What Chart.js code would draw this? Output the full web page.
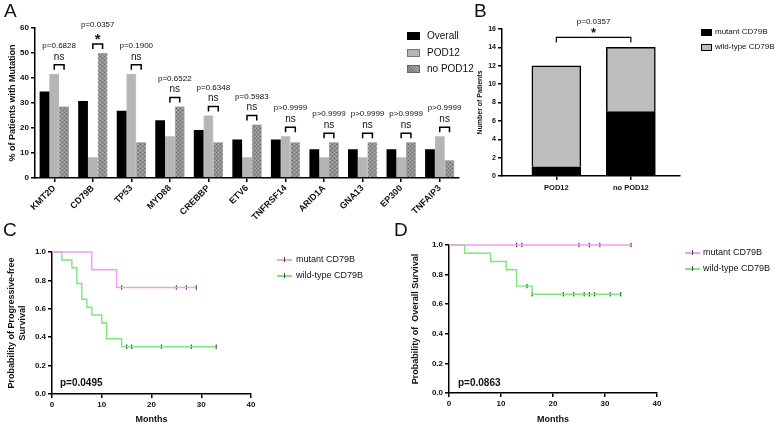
<!DOCTYPE html>
<html>
<head>
<meta charset="utf-8">
<script src="https://cdn.jsdelivr.net/npm/chart.js@4.4.1/dist/chart.umd.min.js"></script>
<style>
  body { margin: 0; background: #fff; }
  #wrap { position: relative; width: 779px; height: 426px; overflow: hidden; background: #fff;
          font-family: "Liberation Sans", Arial, sans-serif; color: #111; }
  canvas { position: absolute; }
  .panel { position: absolute; font-size: 19px; line-height: 1; color: #111; }
  .txt { position: absolute; white-space: nowrap; line-height: 1; }
  .sw { position: absolute; box-sizing: border-box; }
</style>
</head>
<body>
<div id="wrap">
  <canvas id="cA" width="470" height="228" style="left:0;top:0"></canvas>
  <canvas id="cB" width="309" height="200" style="left:470px;top:0"></canvas>
  <canvas id="cC" width="390" height="211" style="left:0;top:215px"></canvas>
  <canvas id="cD" width="389" height="211" style="left:390px;top:215px"></canvas>

  <div class="panel" style="left:4px;top:1px">A</div>
  <div class="panel" style="left:474px;top:1px">B</div>
  <div class="panel" style="left:3px;top:220px">C</div>
  <div class="panel" style="left:394px;top:220px">D</div>

  <!-- legende A -->
  <div class="sw" style="left:407px;top:32px;width:13px;height:8px;background:#000"></div>
  <div class="txt" style="left:427px;top:31px;font-size:10px">Overall</div>
  <div class="sw" style="left:407px;top:49px;width:13px;height:8px;background:#b5b5b5;border:1px solid #777"></div>
  <div class="txt" style="left:427px;top:48px;font-size:10px">POD12</div>
  <div class="sw" style="left:407px;top:65px;width:13px;height:8px;background:repeating-linear-gradient(45deg,#7a7a7a 0 1px,#a5a5a5 1px 2px);border:1px solid #666"></div>
  <div class="txt" style="left:427px;top:64px;font-size:10px">no POD12</div>

  <!-- legende B -->
  <div class="sw" style="left:701px;top:29px;width:11px;height:7px;background:#000"></div>
  <div class="txt" style="left:715px;top:28px;font-size:8px">mutant CD79B</div>
  <div class="sw" style="left:701px;top:44px;width:11px;height:7px;background:#bdbdbd;border:1px solid #000"></div>
  <div class="txt" style="left:715px;top:43px;font-size:8px">wild-type CD79B</div>

  <!-- legende C -->
  <div class="sw" style="left:277px;top:259px;width:15px;height:1.5px;background:#f29cf2"></div>
  <div class="sw" style="left:284px;top:257px;width:1px;height:5px;background:#444"></div>
  <div class="txt" style="left:296px;top:255px;font-size:9px">mutant CD79B</div>
  <div class="sw" style="left:277px;top:275px;width:15px;height:1.5px;background:#7ae87a"></div>
  <div class="sw" style="left:284px;top:273px;width:1px;height:5px;background:#444"></div>
  <div class="txt" style="left:296px;top:271px;font-size:9px">wild-type CD79B</div>
  <div class="txt" style="left:60px;top:378px;font-size:10px;font-weight:bold">p=0.0495</div>

  <!-- legende D -->
  <div class="sw" style="left:685px;top:252px;width:15px;height:1.5px;background:#f29cf2"></div>
  <div class="sw" style="left:692px;top:250px;width:1px;height:5px;background:#444"></div>
  <div class="txt" style="left:703px;top:248px;font-size:9px">mutant CD79B</div>
  <div class="sw" style="left:685px;top:268px;width:15px;height:1.5px;background:#7ae87a"></div>
  <div class="sw" style="left:692px;top:266px;width:1px;height:5px;background:#444"></div>
  <div class="txt" style="left:703px;top:264px;font-size:9px">wild-type CD79B</div>
  <div class="txt" style="left:458px;top:378px;font-size:10px;font-weight:bold">p=0.0863</div>
</div>

<script>
// ---- datos panel A (% de pacientes con mutacion)
const genes = ['KMT2D','CD79B','TP53','MYD88','CREBBP','ETV6','TNFRSF14','ARID1A','GNA13','EP300','TNFAIP3'];
const overall = [34.6, 30.8, 26.9, 23.1, 19.2, 15.4, 15.4, 11.5, 11.5, 11.5, 11.5];
const pod12   = [41.7, 8.3, 41.7, 16.7, 25.0, 8.3, 16.7, 8.3, 8.3, 8.3, 16.7];
const noPod12 = [28.6, 50.0, 14.3, 28.6, 14.3, 21.4, 14.3, 14.3, 14.3, 14.3, 7.1];
const pValores = ['p=0.6828','p=0.0357','p=0.1900','p=0.6522','p=0.6348','p=0.5983','p>0.9999','p>0.9999','p>0.9999','p>0.9999','p>0.9999'];
const signif  = ['ns','*','ns','ns','ns','ns','ns','ns','ns','ns','ns'];

// ---- datos panel B (numero de pacientes)
const grupos = ['POD12','no POD12'];
const mutante = [1, 7];
const silvestre = [11, 7];
const pB = 'p=0.0357';

// ---- datos panel C (supervivencia libre de progresion)
const cMutT = [0, 8, 13, 29];
const cMutS = [1, 0.875, 0.75, 0.75];
const cMutCens = [14, 25, 27, 29];
const cWtT = [0, 2, 4, 5, 6, 7, 8, 10, 11, 14, 33];
const cWtS = [1, 0.944, 0.889, 0.778, 0.667, 0.611, 0.556, 0.5, 0.389, 0.333, 0.333];
const cWtCens = [15, 16, 22, 28, 33];

// ---- datos panel D (supervivencia global)
const dMutT = [0, 35];
const dMutS = [1, 1];
const dMutCens = [13, 14, 25, 27, 29, 35];
const dWtT = [0, 3, 8, 11, 13, 16, 33];
const dWtS = [1, 0.944, 0.889, 0.833, 0.722, 0.667, 0.667];
const dWtCens = [15, 16, 22, 24, 26, 27, 28, 31, 33];

const FUENTE = '"Liberation Sans", Arial, sans-serif';
Chart.defaults.font.family = FUENTE;
Chart.defaults.color = '#111';

// patron tramado para "no POD12"
function trama() {
  const c = document.createElement('canvas');
  c.width = 4; c.height = 4;
  const g = c.getContext('2d');
  g.fillStyle = '#919191'; g.fillRect(0, 0, 4, 4);
  g.fillStyle = '#6c6c6c'; g.fillRect(0, 0, 1, 1); g.fillRect(2, 2, 1, 1);
  g.fillStyle = '#b2b2b2'; g.fillRect(2, 0, 1, 1); g.fillRect(0, 2, 1, 1);
  return g.createPattern(c, 'repeat');
}

const ejeNegro = { color: '#000', width: 1.5 };
const rejilla = { drawOnChartArea: false, tickLength: 4, color: '#000', lineWidth: 1.5 };

// corchetes + p-valores del panel A
const corchetesA = {
  id: 'corchetesA',
  afterDatasetsDraw(chart) {
    const ctx = chart.ctx;
    const b1 = chart.getDatasetMeta(1).data, b2 = chart.getDatasetMeta(2).data;
    ctx.save();
    ctx.strokeStyle = '#000'; ctx.lineWidth = 1.5;
    ctx.fillStyle = '#111'; ctx.textAlign = 'center'; ctx.textBaseline = 'middle';
    for (let i = 0; i < genes.length; i++) {
      const x1 = b1[i].x, x2 = b2[i].x, xm = (x1 + x2) / 2;
      const top = Math.min(b1[i].y, b2[i].y) - 9;
      ctx.beginPath();
      ctx.moveTo(x1, top + 5); ctx.lineTo(x1, top); ctx.lineTo(x2, top); ctx.lineTo(x2, top + 5);
      ctx.stroke();
      if (signif[i] === '*') {
        ctx.font = 'bold 15px ' + FUENTE;
        ctx.fillText('*', xm, top - 4);
      } else {
        ctx.font = '10px ' + FUENTE;
        ctx.fillText('ns', xm, top - 8);
      }
      ctx.font = '8px ' + FUENTE;
      ctx.fillText(pValores[i], xm, top - 19);
    }
    ctx.restore();
  }
};

new Chart(document.getElementById('cA'), {
  type: 'bar',
  data: {
    labels: genes,
    datasets: [
      { label: 'Overall', data: overall, backgroundColor: '#000' },
      { label: 'POD12', data: pod12, backgroundColor: '#b5b5b5', borderColor: '#7a7a7a', borderWidth: 0.6 },
      { label: 'no POD12', data: noPod12, backgroundColor: trama(), borderColor: '#666', borderWidth: 0.6 }
    ]
  },
  options: {
    responsive: false, animation: false,
    layout: { padding: { left: 0, right: 11, top: 28, bottom: 0 } },
    plugins: { legend: { display: false }, tooltip: { enabled: false } },
    datasets: { bar: { categoryPercentage: 0.76, barPercentage: 1 } },
    scales: {
      x: {
        grid: Object.assign({ offset: false }, rejilla), border: ejeNegro,
        ticks: { minRotation: 45, maxRotation: 45, autoSkip: false, padding: 1, font: { size: 9, weight: 'bold' } },
        afterFit(s) { s.height = 50; }
      },
      y: {
        min: 0, max: 60,
        ticks: { stepSize: 10, padding: 2, font: { size: 8, weight: 'bold' } },
        grid: rejilla, border: ejeNegro,
        title: { display: true, text: '% of Patients with Mutation', font: { size: 9, weight: 'bold' }, padding: { top: 7, bottom: 0 } },
        afterFit(s) { s.width = 35; }
      }
    }
  },
  plugins: [corchetesA]
});

// corchete del panel B
const corcheteB = {
  id: 'corcheteB',
  afterDatasetsDraw(chart) {
    const ctx = chart.ctx;
    const barras = chart.getDatasetMeta(1).data;
    const x1 = barras[0].x, x2 = barras[1].x, xm = (x1 + x2) / 2;
    const top = Math.min(barras[0].y, barras[1].y) - 10;
    ctx.save();
    ctx.strokeStyle = '#000'; ctx.lineWidth = 1.2;
    ctx.beginPath();
    ctx.moveTo(x1, top + 5); ctx.lineTo(x1, top); ctx.lineTo(x2, top); ctx.lineTo(x2, top + 5);
    ctx.stroke();
    ctx.fillStyle = '#111'; ctx.textAlign = 'center'; ctx.textBaseline = 'middle';
    ctx.font = 'bold 13px ' + FUENTE;
    ctx.fillText('*', xm, top - 4);
    ctx.font = '8px ' + FUENTE;
    ctx.fillText(pB, xm, top - 16);
    ctx.restore();
  }
};

new Chart(document.getElementById('cB'), {
  type: 'bar',
  data: {
    datasets: [
      { label: 'mutant CD79B', data: mutante.map((v, i) => ({ x: i + 1, y: v })), backgroundColor: '#000', borderColor: '#000', borderWidth: 1.5 },
      { label: 'wild-type CD79B', data: silvestre.map((v, i) => ({ x: i + 1, y: v })), backgroundColor: '#bdbdbd', borderColor: '#000', borderWidth: 1.5 }
    ]
  },
  options: {
    responsive: false, animation: false,
    layout: { padding: { left: 0, right: 99, top: 29, bottom: 0 } },
    plugins: { legend: { display: false }, tooltip: { enabled: false } },
    datasets: { bar: { barThickness: 49 } },
    scales: {
      x: {
        type: 'linear', stacked: true, min: 0.27, max: 2.66, offset: false, bounds: 'data',
        afterBuildTicks(s) { s.ticks = grupos.map((g, i) => ({ value: i + 1 })); },
        ticks: { callback: v => grupos[v - 1], padding: 3, font: { size: 7.5, weight: 'bold' } },
        grid: Object.assign({ offset: false }, rejilla), border: ejeNegro,
        afterFit(s) { s.height = 24; }
      },
      y: {
        stacked: true, min: 0, max: 16,
        ticks: { stepSize: 2, padding: 2, font: { size: 7, weight: 'bold' } },
        grid: rejilla, border: ejeNegro,
        title: { display: true, text: 'Number of Patients', font: { size: 7, weight: 'bold' }, padding: { top: 6, bottom: 0 } },
        afterFit(s) { s.width = 32; }
      }
    }
  },
  plugins: [corcheteB]
});

// curvas de Kaplan-Meier
function puntos(t, s) { return t.map((v, i) => ({ x: v, y: s[i] })); }
function supervivencia(t, s, tiempo) {
  let val = s[0];
  for (let i = 0; i < t.length; i++) if (t[i] <= tiempo) val = s[i];
  return val;
}
function censuras(t, s, cens) { return cens.map(c => ({ x: c, y: supervivencia(t, s, c) })); }

function curva(data, color) {
  return { data, borderColor: color, borderWidth: 1.4, stepped: true, pointRadius: 0, fill: false, clip: false };
}
function marcas(data) {
  return { data, showLine: false, pointStyle: 'line', rotation: 90, pointRadius: 2.2,
           pointBorderColor: '#444', pointBorderWidth: 1.2, borderColor: '#444', clip: false };
}

function km(id, series, tituloY, pad, anchoY, altoX) {
  return new Chart(document.getElementById(id), {
    type: 'line',
    data: { datasets: series },
    options: {
      responsive: false, animation: false,
      layout: { padding: pad },
      plugins: { legend: { display: false }, tooltip: { enabled: false } },
      scales: {
        x: {
          type: 'linear', min: 0, max: 40,
          ticks: { stepSize: 10, padding: 2, font: { size: 8, weight: 'bold' } },
          grid: rejilla, border: ejeNegro,
          title: { display: true, text: 'Months', font: { size: 9, weight: 'bold' }, padding: { top: 0, bottom: 1 } },
          afterFit(s) { s.height = altoX; }
        },
        y: {
          min: 0, max: 1,
          ticks: { stepSize: 0.2, padding: 2, callback: v => v.toFixed(1), font: { size: 8, weight: 'bold' } },
          grid: rejilla, border: ejeNegro,
          title: { display: true, text: tituloY.texto, font: { size: 9, weight: 'bold' }, padding: { top: tituloY.pad, bottom: 0 } },
          afterFit(s) { s.width = anchoY; }
        }
      }
    }
  });
}

km('cC', [
  curva(puntos(cMutT, cMutS), '#f29cf2'),
  curva(puntos(cWtT, cWtS), '#7ae87a'),
  marcas(censuras(cMutT, cMutS, cMutCens)),
  marcas(censuras(cWtT, cWtS, cWtCens))
], { texto: ['Probability of Progressive-free', 'Survival'], pad: 6 },
   { left: 0, right: 139, top: 37, bottom: 0 }, 52, 32);

km('cD', [
  curva(puntos(dMutT, dMutS), '#f29cf2'),
  curva(puntos(dWtT, dWtS), '#7ae87a'),
  marcas(censuras(dMutT, dMutS, dMutCens)),
  marcas(censuras(dWtT, dWtS, dWtCens))
], { texto: 'Probability of  Overall Survival', pad: 20 },
   { left: 0, right: 122, top: 30, bottom: 0 }, 59, 33);
</script>
</body>
</html>
